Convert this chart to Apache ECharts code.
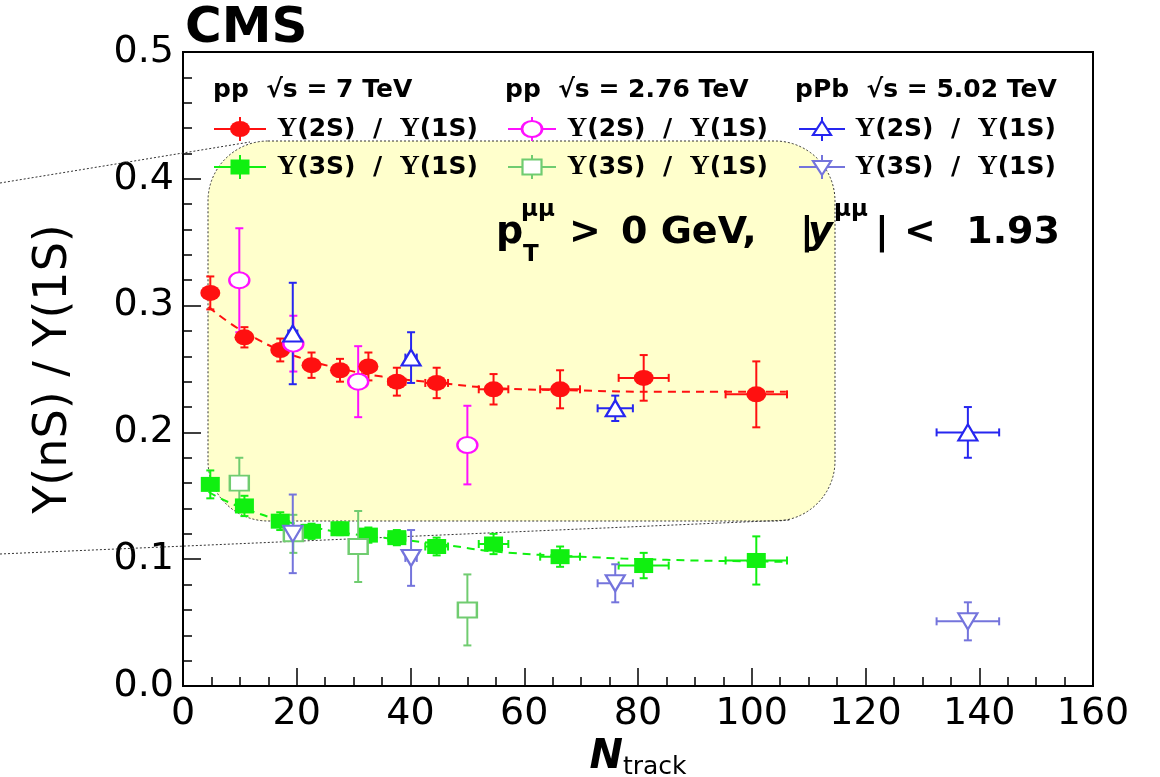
<!DOCTYPE html>
<html>
<head>
<meta charset="utf-8">
<script src="https://cdn.jsdelivr.net/npm/echarts@6/dist/echarts.min.js"></script>
<style>html,body{margin:0;padding:0;background:#fff;}#chart{width:1160px;height:777px;}</style>
</head>
<body>
<div id="chart"></div>
<script>
// ---------- data ----------
const nTrack7    = [4.8, 10.8, 17.1, 22.6, 27.6, 32.6, 37.6, 44.6, 54.6, 66.3, 81.0, 100.8];
const nTrack7Err = [0.9, 1.0, 1.1, 1.2, 1.2, 1.3, 1.5, 2.0, 2.6, 3.5, 4.4, 5.4];
const r2S_7      = [0.310, 0.275, 0.265, 0.253, 0.249, 0.252, 0.240, 0.239, 0.234, 0.234, 0.243, 0.230];
const r2S_7Err   = [0.013, 0.008, 0.009, 0.010, 0.009, 0.011, 0.011, 0.012, 0.012, 0.015, 0.018, 0.026];
const r3S_7      = [0.159, 0.142, 0.130, 0.122, 0.124, 0.119, 0.117, 0.110, 0.112, 0.102, 0.095, 0.099];
const r3S_7Err   = [0.011, 0.008, 0.007, 0.006, 0.005, 0.006, 0.006, 0.007, 0.008, 0.008, 0.010, 0.019];

const nTrack276    = [9.9, 19.4, 30.8, 50.0];
const nTrack276Err = [0.5, 0.5, 0.5, 0.5];
const r2S_276      = [0.320, 0.270, 0.240, 0.190];
const r2S_276Err   = [0.041, 0.022, 0.028, 0.031];
const r3S_276      = [0.160, 0.120, 0.110, 0.060];
const r3S_276Err   = [0.020, 0.015, 0.028, 0.028];

const nTrackPPb    = [19.3, 40.1, 76.0, 138.0];
const nTrackPPbErr = [0.8, 1.0, 3.1, 5.5];
const r2S_PPb      = [0.278, 0.259, 0.219, 0.200];
const r2S_PPbErr   = [0.040, 0.020, 0.010, 0.020];
const r3S_PPb      = [0.120, 0.101, 0.081, 0.051];
const r3S_PPbErr   = [0.031, 0.022, 0.015, 0.015];

// dashed fit curves
const fitX   = [4.5, 8, 12, 17, 22, 28, 35, 45, 55, 70, 85, 106];
const fit2S  = [0.299, 0.287, 0.276, 0.265, 0.257, 0.250, 0.244, 0.239, 0.235, 0.233, 0.232, 0.232];
const fit3S  = [0.153, 0.145, 0.138, 0.131, 0.126, 0.121, 0.117, 0.112, 0.106, 0.102, 0.0995, 0.098];

const xTicks = [0, 20, 40, 60, 80, 100, 120, 140, 160];
const yTicks = [0.0, 0.1, 0.2, 0.3, 0.4, 0.5];

// ---------- styling ----------
const FONT = "'DejaVu Sans', sans-serif";
const C_RED = '#ff1010', C_GREEN = '#10f010', C_MAG = '#ff10ff', C_LGREEN = '#70cc70', C_BLUE = '#2626f0', C_PURP = '#7474dc';

function rows(xs, xe, ys, ye) { return xs.map((x, i) => [x, ys[i], xe[i], ye[i]]); }

function errSeries(name, data, color) {
  return {
    name: name, type: 'custom', z: 3, data: data,
    renderItem: function (params, api) {
      const x = api.value(0), y = api.value(1), ex = api.value(2), ey = api.value(3);
      const l = api.coord([x - ex, y]), r = api.coord([x + ex, y]);
      const t = api.coord([x, y + ey]), b = api.coord([x, y - ey]);
      const cap = 4, st = { stroke: color, lineWidth: 2 };
      return { type: 'group', children: [
        { type: 'line', shape: { x1: b[0], y1: b[1], x2: t[0], y2: t[1] }, style: st },
        { type: 'line', shape: { x1: l[0], y1: l[1], x2: r[0], y2: r[1] }, style: st },
        { type: 'line', shape: { x1: t[0] - cap, y1: t[1], x2: t[0] + cap, y2: t[1] }, style: st },
        { type: 'line', shape: { x1: b[0] - cap, y1: b[1], x2: b[0] + cap, y2: b[1] }, style: st },
        { type: 'line', shape: { x1: l[0], y1: l[1] - cap, x2: l[0], y2: l[1] + cap }, style: st },
        { type: 'line', shape: { x1: r[0], y1: r[1] - cap, x2: r[0], y2: r[1] + cap }, style: st }
      ]};
    }
  };
}
function markSeries(name, data, color, symbol, size, hollow, rotate) {
  return {
    name: name, type: 'scatter', z: 4, data: data.map(d => [d[0], d[1]]),
    symbol: symbol, symbolSize: size, symbolRotate: rotate || 0,
    itemStyle: hollow ? { color: '#ffffff', borderColor: color, borderWidth: 2.2, opacity: 1 }
                      : { color: color, opacity: 1 }
  };
}
function fitSeries(name, ys, color) {
  return {
    name: name, type: 'line', z: 2, data: fitX.map((x, i) => [x, ys[i]]),
    smooth: true, showSymbol: false, symbol: 'none',
    lineStyle: { color: color, width: 2, type: [8, 6] }
  };
}

const d2S7 = rows(nTrack7, nTrack7Err, r2S_7, r2S_7Err);
const d3S7 = rows(nTrack7, nTrack7Err, r3S_7, r3S_7Err);
const d2S276 = rows(nTrack276, nTrack276Err, r2S_276, r2S_276Err);
const d3S276 = rows(nTrack276, nTrack276Err, r3S_276, r3S_276Err);
const d2SPPb = rows(nTrackPPb, nTrackPPbErr, r2S_PPb, r2S_PPbErr);
const d3SPPb = rows(nTrackPPb, nTrackPPbErr, r3S_PPb, r3S_PPbErr);

const series = [
  fitSeries('fit 2S', fit2S, C_RED),
  fitSeries('fit 3S', fit3S, C_GREEN),
  errSeries('pp 7 2S err', d2S7, C_RED),   markSeries('pp 7 TeV Υ(2S)/Υ(1S)', d2S7, C_RED, 'circle', [20, 16], false),
  errSeries('pp 7 3S err', d3S7, C_GREEN), markSeries('pp 7 TeV Υ(3S)/Υ(1S)', d3S7, C_GREEN, 'rect', [19, 15], false),
  errSeries('pp 2.76 2S err', d2S276, C_MAG),    markSeries('pp 2.76 TeV Υ(2S)/Υ(1S)', d2S276, C_MAG, 'circle', [20, 16], true),
  errSeries('pp 2.76 3S err', d3S276, C_LGREEN), markSeries('pp 2.76 TeV Υ(3S)/Υ(1S)', d3S276, C_LGREEN, 'rect', [19, 15], true),
  errSeries('pPb 2S err', d2SPPb, C_BLUE), markSeries('pPb 5.02 TeV Υ(2S)/Υ(1S)', d2SPPb, C_BLUE, 'triangle', [19, 16], true),
  errSeries('pPb 3S err', d3SPPb, C_PURP), markSeries('pPb 5.02 TeV Υ(3S)/Υ(1S)', d3SPPb, C_PURP, 'triangle', [19, 16], true, 180)
];

// ---------- legend (drawn as graphic, ROOT style) ----------
function icon(cx, cy, color, kind, hollow, half) {
  const st = { stroke: color, lineWidth: 2 };
  const els = [
    { type: 'line', shape: { x1: cx - half, y1: cy, x2: cx + half, y2: cy }, style: st },
    { type: 'line', shape: { x1: cx, y1: cy - 12, x2: cx, y2: cy + 12 }, style: st }
  ];
  const fill = hollow ? '#ffffff' : color;
  const mst = { fill: fill, stroke: color, lineWidth: hollow ? 2.2 : 0 };
  if (kind === 'circle') els.push({ type: 'circle', shape: { cx: 0, cy: 0, r: 8 }, x: cx, y: cy, scaleX: 1.25, style: mst });
  if (kind === 'rect') els.push({ type: 'rect', shape: { x: cx - 9.5, y: cy - 7.5, width: 19, height: 15 }, style: mst });
  if (kind === 'up') els.push({ type: 'polygon', shape: { points: [[cx, cy - 8], [cx + 9, cy + 6], [cx - 9, cy + 6]] }, style: mst });
  if (kind === 'down') els.push({ type: 'polygon', shape: { points: [[cx, cy + 8], [cx + 9, cy - 6], [cx - 9, cy - 6]] }, style: mst });
  return els;
}
function label(x, y, txt) {
  return { type: 'text', x: x, y: y, z: 10,
    style: { text: txt, fill: '#000', font: 'bold 25px ' + FONT, textVerticalAlign: 'middle',
      rich: { u: { fontFamily: "'Liberation Serif', serif", fontWeight: 'bold', fontSize: 28, fill: '#000' } } } };
}
function header(x, y, txt) {
  return { type: 'text', x: x, y: y, z: 10, style: { text: txt, fill: '#000', font: 'bold 25px ' + FONT, textVerticalAlign: 'middle' } };
}
function txt(x, y, s, font, align) {
  return { type: 'text', x: x, y: y, z: 10, style: { text: s, fill: '#000', font: font, textVerticalAlign: 'middle', textAlign: align || 'left' } };
}
const legendTxt = '{u|Υ}(2S)  /  {u|Υ}(1S)';
const legendTxt3 = '{u|Υ}(3S)  /  {u|Υ}(1S)';
const R1 = 129, R2 = 167;
const BIG = 'bold 38px ' + FONT, SUP = 'bold 23px ' + FONT;
const graphics = [
  { type: 'rect', z: 1, shape: { x: 208, y: 141, width: 627, height: 380, r: 60 },
    style: { fill: '#ffffcc', stroke: '#333', lineWidth: 1, lineDash: [2, 2] } },
  { type: 'line', z: 1, shape: { x1: 0, y1: 183, x2: 250, y2: 142 }, style: { stroke: '#333', lineWidth: 1, lineDash: [2, 2] } },
  { type: 'line', z: 1, shape: { x1: 0, y1: 554, x2: 790, y2: 520 }, style: { stroke: '#333', lineWidth: 1, lineDash: [2, 2] } },
  header(213, 90, 'pp  √s = 7 TeV'),
  header(505, 90, 'pp  √s = 2.76 TeV'),
  header(795, 90, 'pPb  √s = 5.02 TeV'),
  label(277, R1, legendTxt), label(277, R2, legendTxt3),
  label(567, R1, legendTxt), label(567, R2, legendTxt3),
  label(855, R1, legendTxt), label(855, R2, legendTxt3),
  // kinematic selection text
  txt(496, 233, 'p', BIG),
  txt(521, 210, 'μμ', SUP),
  txt(523, 255, 'T', SUP),
  txt(569, 233, '>', BIG),
  txt(621, 233, '0 GeV,', BIG),
  txt(800, 233, '|', BIG),
  txt(808, 233, 'y', 'italic bold 38px ' + FONT),
  txt(834, 210, 'μμ', SUP),
  txt(875, 233, '|', BIG),
  txt(904, 233, '<', BIG),
  txt(1060, 233, '1.93', BIG, 'right')
].concat(
  icon(240, R1, C_RED, 'circle', false, 26), icon(240, R2, C_GREEN, 'rect', false, 26),
  icon(532, R1, C_MAG, 'circle', true, 24), icon(532, R2, C_LGREEN, 'rect', true, 24),
  icon(822, R1, C_BLUE, 'up', true, 23), icon(822, R2, C_PURP, 'down', true, 23)
).map(e => (e.z === undefined ? Object.assign(e, { z: 10 }) : e));

const chart = echarts.init(document.getElementById('chart'), null, { renderer: 'canvas' });
chart.setOption({
  animation: false,
  backgroundColor: '#ffffff',
  title: { text: 'CMS', left: 180, top: -1, textStyle: { fontFamily: FONT, fontWeight: 'bold', fontSize: 50, color: '#000' } },
  grid: { left: 183, right: 67, top: 52, bottom: 91, show: true, borderColor: '#000', borderWidth: 2,
          backgroundColor: 'transparent', containLabel: false, outerBoundsMode: 'none' },
  xAxis: {
    type: 'value', min: xTicks[0], max: xTicks[xTicks.length - 1], interval: xTicks[1] - xTicks[0],
    axisLine: { lineStyle: { color: '#000', width: 2 } },
    axisTick: { inside: true, length: 18, lineStyle: { color: '#000', width: 1.5 } },
    minorTick: { show: true, splitNumber: 4, length: 9, lineStyle: { color: '#000', width: 1.5 } },
    splitLine: { show: false },
    axisLabel: { fontFamily: FONT, fontSize: 38, color: '#000', margin: 9 },
    name: '{n|N}{t|track}', nameLocation: 'middle', nameGap: 44,
    nameTextStyle: { rich: {
      n: { fontFamily: FONT, fontSize: 40, fontStyle: 'italic', fontWeight: 'bold', color: '#000' },
      t: { fontFamily: FONT, fontSize: 25, color: '#000', padding: [20, 0, 0, 0] } } }
  },
  yAxis: {
    type: 'value', min: yTicks[0], max: yTicks[yTicks.length - 1], interval: 0.1,
    axisLine: { lineStyle: { color: '#000', width: 2 } },
    axisTick: { inside: true, length: 18, lineStyle: { color: '#000', width: 1.5 } },
    minorTick: { show: true, splitNumber: 5, length: 9, lineStyle: { color: '#000', width: 1.5 } },
    splitLine: { show: false },
    axisLabel: { fontFamily: FONT, fontSize: 38, color: '#000', margin: 9, formatter: v => v.toFixed(1) },
    name: 'Υ(nS) / Υ(1S)', nameLocation: 'middle', nameGap: 106, nameRotate: 90,
    nameTextStyle: { fontFamily: FONT, fontSize: 46, color: '#000' }
  },
  graphic: graphics,
  series: series
});
</script>
</body>
</html>
